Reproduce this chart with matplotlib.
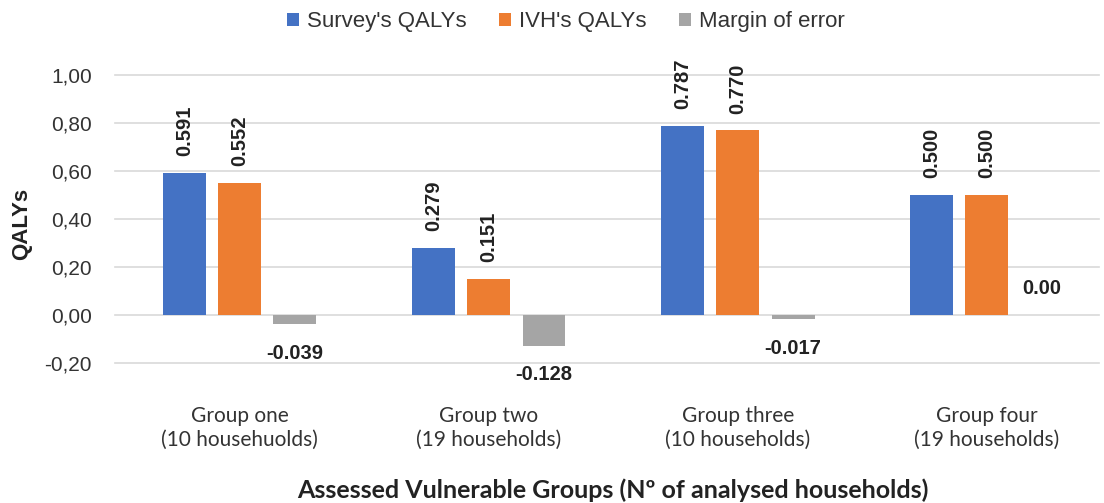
import matplotlib
matplotlib.use("Agg")
import matplotlib.pyplot as plt
import numpy as np
from matplotlib.ticker import FuncFormatter

categories = ["Group one\n(10 househuolds)", "Group two\n(19 households)",
              "Group three\n(10 households)", "Group four\n(19 households)"]
survey = [0.591, 0.279, 0.787, 0.500]
ivh = [0.552, 0.151, 0.770, 0.500]
margin = [-0.039, -0.128, -0.017, 0.0]
series_names = ["Survey's QALYs", "IVH's QALYs", "Margin of error"]
colors = ["#4472C4", "#ED7D31", "#A5A5A5"]
yticks = [-0.2, 0.0, 0.2, 0.4, 0.6, 0.8, 1.0]

fig = plt.figure(figsize=(11.04, 5.03), dpi=100)
ax = fig.add_axes([115/1104, (503-363)/503, (1099-115)/1104, (363-75)/503])

x = np.arange(len(categories))
w = 0.172
off = 0.222
bars_s = ax.bar(x - off, survey, w, color=colors[0], label=series_names[0], zorder=3)
bars_i = ax.bar(x, ivh, w, color=colors[1], label=series_names[1], zorder=3)
bars_m = ax.bar(x + off, margin, w, color=colors[2], label=series_names[2], zorder=3)

lab_font = dict(family="Liberation Sans", fontweight="bold", fontsize=14.5, color="#222222")
for bars, vals in ((bars_s, survey), (bars_i, ivh)):
    for b, v in zip(bars, vals):
        ax.annotate(f"{v:.3f}", (b.get_x() + b.get_width()/2, v), xytext=(0, 12),
                    textcoords="offset points", rotation=90, ha="center", va="bottom", **lab_font)
for b, v in zip(bars_m, margin):
    if v < 0:
        ax.annotate(f"{v:.3f}", (b.get_x() + b.get_width()/2, v), xytext=(0, -21),
                    textcoords="offset points", ha="center", va="center", **lab_font)
    else:
        ax.annotate(f"{v:.2f}", (b.get_x() + b.get_width()/2, v), xytext=(0, 19),
                    textcoords="offset points", ha="center", va="center", **lab_font)

ax.set_xlim(-0.5, len(categories) - 0.55)
ax.set_ylim(-0.2, 1.0)
ax.set_yticks(yticks)
ax.yaxis.set_major_formatter(FuncFormatter(lambda v, p: f"{v:.2f}".replace(".", ",")))
ax.grid(axis="y", color="#D9D9D9", linewidth=1.2, zorder=0)
for gl in ax.get_ygridlines():
    gl.set_clip_on(False)
for s in ax.spines.values():
    s.set_visible(False)
ax.tick_params(axis="y", length=0, pad=16.5, labelsize=15, labelcolor="#333333")
for t in ax.get_yticklabels():
    t.set_fontfamily("Liberation Sans")
ax.set_xticks([])

for xi, c in zip(x, categories):
    ax.annotate(c, (xi, -0.2), xytext=(0, -31), textcoords="offset points",
                ha="center", va="top", fontsize=15, family="Lato",
                color="#333333", linespacing=1.25)

fig.text(22/1104, 1 - 224/503, "QALYs", rotation=90, ha="center", va="center",
         family="Liberation Sans", fontweight="bold", fontsize=16, color="#222222")
fig.text(613/1104, 1 - 490/503, "Assessed Vulnerable Groups (Nº of analysed households)",
         ha="center", va="center", family="Lato", fontweight="bold", fontsize=18, color="#222222")

leg = fig.legend(loc="center", bbox_to_anchor=(566/1104, 1 - 22/503), ncol=3, frameon=False,
                 prop={"family": "Liberation Sans", "size": 16}, handlelength=0.55,
                 handleheight=0.55, handletextpad=0.36, columnspacing=1.45)
for t in leg.get_texts():
    t.set_color("#333333")

fig.savefig("out.png", dpi=100)
